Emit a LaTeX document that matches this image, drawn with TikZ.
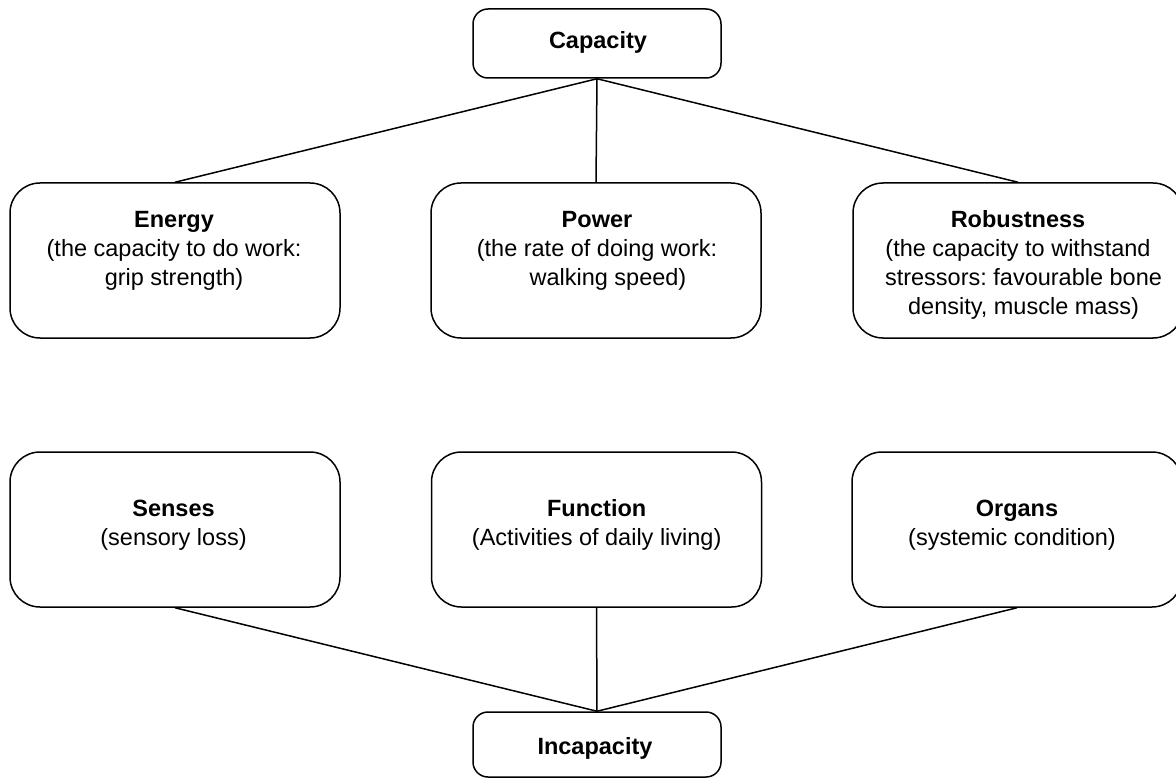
\documentclass[tikz,border=0pt]{standalone}
\usepackage{fontspec}
\setmainfont{Liberation Sans}
\frenchspacing
\tikzset{
  bigbox/.style={draw, line width=1.5pt, rounded corners=30pt, minimum width=330pt, minimum height=155pt, inner sep=0pt},
  smallbox/.style={draw, line width=1.5pt, rounded corners=15pt, minimum width=248pt, minimum height=69pt, inner sep=0pt},
  txt/.style={anchor=base, inner sep=0pt, font=\fontsize{23.5}{29}\selectfont\frenchspacing},
  link/.style={line width=1.5pt},
}
\newcommand{\lines}[1]{\begin{tabular}[t]{@{}c@{}}#1\end{tabular}}
\begin{document}
\begin{tikzpicture}[x=1pt, y=-1pt]
\useasboundingbox (0,0) rectangle (1176,778);
\clip (0,0) rectangle (1176,778);
% boxes
\node[smallbox] (cap) at (597,43.5) {};
\node[bigbox] (energy) at (175,260.5) {};
\node[bigbox] (power) at (596,260.5) {};
\node[bigbox] (robust) at (1018,260.5) {};
\node[bigbox] (senses) at (175,529.5) {};
\node[bigbox] (function) at (596.5,529.5) {};
\node[bigbox] (organs) at (1017,529.5) {};
\node[smallbox, minimum height=65pt] (incap) at (597,744.5) {};
% texts
\node[txt] (tcap) at (598,48.3) {\textbf{Capacity}};
\node[txt] (tenergy) at (174,228) {\lines{\textbf{Energy}\\(the capacity to do work:\\grip strength)}};
\node[txt] (tpower) at (597,228) {\lines{\textbf{Power}\\(the rate of doing work:\\\hspace*{22pt}walking speed)}};
\node[txt] (trobust) at (1018,228) {\lines{\textbf{Robustness}\\(the capacity to withstand\\\hspace*{11pt}stressors: favourable bone\\\hspace*{11pt}density, muscle mass)}};
\node[txt] (tsenses) at (173.5,516) {\lines{\textbf{Senses}\\(sensory loss)}};
\node[txt] (tfunction) at (596.7,516) {\lines{\textbf{Function}\\(Activities of daily living)}};
\node[txt] (torgans) at (1017,516) {\lines{\textbf{Organs}\\(systemic condition)\hspace*{10pt}}};
\node[txt] (tincap) at (595,754) {\textbf{Incapacity}};
% connectors
\draw[link] (cap.south) -- (energy.north);
\draw[link] (cap.south) -- (power.north);
\draw[link] (cap.south) -- (robust.north);
\draw[link] (senses.south) -- (incap.north);
\draw[link] (function.south) -- (incap.north);
\draw[link] (organs.south) -- (incap.north);
\end{tikzpicture}
\end{document}
